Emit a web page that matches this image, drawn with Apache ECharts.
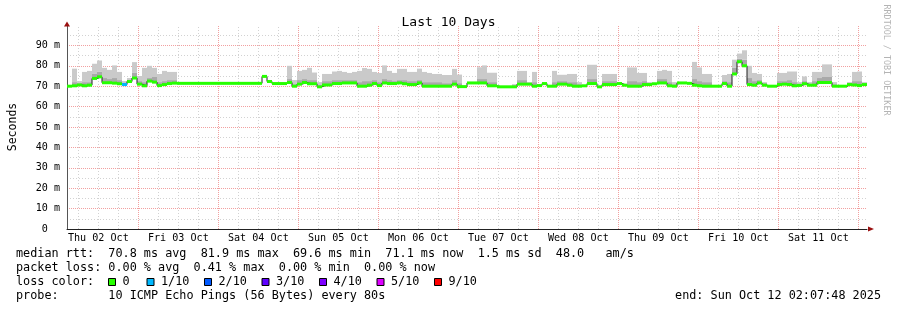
<!DOCTYPE html>
<html><head><meta charset="utf-8">
<script src="https://cdn.jsdelivr.net/npm/echarts@6/dist/echarts.min.js"></script>
<style>html,body{margin:0;padding:0;background:#fff}#c{width:897px;height:310px}</style>
</head><body><div id="c"></div>
<script>
// x axis unit: hours after Thu 02 Oct 00:00
const START_H = 2.6;
const STEP_H = 1.5;
const SPAN_H = 240;

const dayLabels = ['Thu 02 Oct','Fri 03 Oct','Sat 04 Oct','Sun 05 Oct','Mon 06 Oct','Tue 07 Oct','Wed 08 Oct','Thu 09 Oct','Fri 10 Oct','Sat 11 Oct'];
const dayLabelHours = [12,36,60,84,108,132,156,180,204,228];

// median rtt (ms), one value per 1.5 h bin
const median = [
70.0,70.2,70.6,70.2,70.5,73.8,74.6,71.7,71.7,71.5,71.2,70.8,72.3,74.0,71.0,70.2,72.5,72.0,70.3,70.8,
71.3,71.5,71.4,71.4,71.4,71.4,71.4,71.4,71.4,71.4,71.4,71.4,71.4,71.4,71.4,71.4,71.4,71.4,71.4,74.8,
72.3,71.3,71.3,71.3,71.8,70.0,71.0,71.8,71.2,71.2,69.7,70.6,70.6,71.3,71.3,71.6,71.6,71.6,70.0,70.0,
70.5,71.3,70.3,71.6,71.3,71.3,71.6,71.2,70.8,70.8,71.6,70.0,70.0,70.0,70.0,70.0,70.0,71.0,69.8,69.8,
71.6,71.6,71.6,71.6,70.2,70.2,69.7,69.7,69.7,69.7,71.0,71.0,71.0,70.0,70.3,71.3,70.0,70.0,71.0,71.0,
70.5,70.0,70.0,70.2,71.3,71.3,69.7,70.8,70.8,70.8,71.3,70.5,70.0,70.0,70.0,70.8,70.8,71.2,71.6,71.6,
70.2,70.0,71.6,71.6,71.4,70.5,70.2,70.0,70.0,70.0,70.0,71.3,70.0,76.0,82.0,80.0,70.8,70.5,71.6,70.5,
70.0,70.0,70.8,71.0,70.8,70.2,70.4,71.2,70.5,70.5,71.8,71.8,71.8,70.0,70.0,70.0,70.8,70.6,70.3,70.8
];
// top of the darker smoke band (ms)
const smokeDark = [
70.0,72.0,71.5,72.0,72.0,76.0,77.0,74.0,73.5,74.0,73.0,71.5,73.0,76.5,72.5,72.0,74.0,74.5,72.0,72.5,
73.0,73.0,71.4,71.4,71.4,71.4,71.4,71.4,71.4,71.4,71.4,71.4,71.4,71.4,71.4,71.4,71.4,71.4,71.4,74.8,
72.3,71.3,71.3,71.3,73.5,71.0,73.0,73.5,73.0,73.0,70.5,72.5,72.5,73.0,73.0,73.0,73.0,73.0,72.0,72.5,
72.5,73.0,72.0,73.5,73.0,72.5,73.0,73.0,72.5,72.5,73.0,72.0,72.0,72.0,72.0,71.5,71.5,73.0,71.5,69.8,
71.6,71.6,73.5,73.5,72.0,72.0,69.7,69.7,69.7,70.5,73.0,73.0,71.5,72.0,70.8,71.3,70.0,72.0,72.5,72.5,
72.0,72.0,71.0,70.2,73.5,73.5,69.7,72.5,72.5,72.5,72.0,70.5,72.5,72.5,72.0,72.5,71.5,71.2,73.5,73.5,
72.0,71.0,71.6,71.6,71.4,73.5,72.5,72.0,72.0,70.0,70.0,72.5,72.0,79.0,83.5,83.0,74.0,72.5,73.0,71.5,
70.0,70.0,72.5,72.5,73.0,72.0,71.0,72.5,71.0,72.5,74.0,74.5,74.5,71.0,70.0,70.0,71.5,72.5,72.5,71.0
];
// top of the smoke (max ping, ms)
const smokeHigh = [
70.0,78.6,72.5,77.0,77.5,81.0,82.6,79.0,78.0,80.2,77.0,72.5,74.0,81.8,75.0,79.0,80.0,79.0,76.0,77.5,
77.0,77.0,71.4,71.4,71.4,71.4,71.4,71.4,71.4,71.4,71.4,71.4,71.4,71.4,71.4,71.4,71.4,71.4,71.4,74.8,
72.3,71.3,71.3,71.3,80.0,73.0,77.5,78.0,79.0,76.7,72.0,76.0,76.0,77.2,77.5,77.0,76.5,77.0,77.5,78.9,
78.5,77.0,76.5,80.2,77.5,76.5,78.5,78.5,77.0,77.0,78.6,77.0,76.5,76.0,76.0,75.5,75.5,78.5,75.7,69.8,
71.6,71.6,79.3,80.2,76.6,76.6,69.7,69.7,69.7,71.0,77.5,77.5,72.0,77.0,71.0,71.3,70.0,77.5,75.6,75.6,
76.0,76.0,72.0,70.2,80.5,80.5,69.7,76.0,76.0,76.0,72.0,70.5,79.2,79.2,76.5,76.5,72.0,71.2,77.5,78.0,
77.5,72.0,71.6,71.6,71.4,81.9,79.2,76.0,76.0,70.0,70.0,75.5,76.0,83.0,86.0,87.6,80.0,76.5,76.0,72.0,
70.0,70.0,76.5,76.5,77.2,77.2,72.0,74.8,72.0,77.0,77.0,80.7,80.7,72.0,70.0,70.0,72.0,77.0,77.2,72.0
];
// loss level index per bin (index into lossLabels); only listed bins differ from 0
const lossBins = {11: 1};

const lossLabels = ['0','1/10','2/10','3/10','4/10','5/10','9/10'];
const lossColors = ['#26ff00','#00b8ff','#0059ff','#5e00ff','#7e00ff','#dd00ff','#ff0000'];

const statLine1 = 'median rtt:  70.8 ms avg  81.9 ms max  69.6 ms min  71.1 ms now  1.5 ms sd  48.0   am/s';
const statLine2 = 'packet loss: 0.00 % avg  0.41 % max  0.00 % min  0.00 % now';
const statLine3 = 'loss color:';
const statLine4 = 'probe:       10 ICMP Echo Pings (56 Bytes) every 80s';
const endText = 'end: Sun Oct 12 02:07:48 2025';

const MONO = '"DejaVu Sans Mono", "Liberation Mono", monospace';
const END_H = START_H + SPAN_H;

const t = median.map((_, i) => START_H + STEP_H * i);
const tEnd = i => (i + 1 < t.length ? t[i + 1] : END_H);
const medianData = median.map((v,i)=>[t[i], v]).concat([[END_H, median[median.length-1]]]);
const darkData = median.map((v,i)=>[t[i], tEnd(i), v, smokeDark[i]]);
const lightData = median.map((v,i)=>[t[i], tEnd(i), smokeDark[i], smokeHigh[i]]);
const greenData = median.map((v,i)=>[t[i], tEnd(i), v, lossBins[i] || 0]);

// vertical grid lines
const gridLines = [];
for (let h = 6; h < END_H; h += 6) {
  if (h <= START_H) continue;
  const major = h % 24 === 0;
  gridLines.push({xAxis: h, lineStyle: major ? {color:'#f2a0a0', type:[1,1], width:1} : {color:'#d2d2d2', type:[1,2], width:1}});
}

function bandRenderer(color) {
  return (params, api) => {
    const a = api.coord([api.value(0), api.value(3)]);
    const b = api.coord([api.value(1), api.value(2)]);
    const h = b[1] - a[1];
    if (h <= 0.01) return null;
    return {type:'rect', shape:{x:a[0], y:a[1], width:b[0]-a[0], height:h}, style:{fill:color}};
  };
}

const chart = echarts.init(document.getElementById('c'), null, {renderer:'canvas'});

const graphics = [
  {type:'text', x:886.5, y:60, rotation:-Math.PI/2, style:{text:'RRDTOOL / TOBI OETIKER', fontFamily:MONO, fontSize:8.4, fill:'#b4b4b4', align:'center', verticalAlign:'middle', textAlign:'center', textVerticalAlign:'middle'}},
  {type:'text', x:16, y:254, style:{text:statLine1, fontFamily:MONO, fontSize:11.8, fill:'#000', align:'left', verticalAlign:'middle', textAlign:'left', textVerticalAlign:'middle'}},
  {type:'text', x:16, y:268.3, style:{text:statLine2, fontFamily:MONO, fontSize:11.8, fill:'#000', align:'left', verticalAlign:'middle', textAlign:'left', textVerticalAlign:'middle'}},
  {type:'text', x:16, y:282.3, style:{text:statLine3, fontFamily:MONO, fontSize:11.8, fill:'#000', align:'left', verticalAlign:'middle', textAlign:'left', textVerticalAlign:'middle'}},
  {type:'text', x:16, y:296.3, style:{text:statLine4, fontFamily:MONO, fontSize:11.8, fill:'#000', align:'left', verticalAlign:'middle', textAlign:'left', textVerticalAlign:'middle'}},
  {type:'text', x:881, y:296.3, style:{text:endText, fontFamily:MONO, fontSize:11.8, fill:'#000', align:'right', verticalAlign:'middle', textAlign:'right', textVerticalAlign:'middle'}}
];
const swatchX = [108, 146.5, 204, 261.5, 319, 376.5, 434];
lossLabels.forEach((lab, k) => {
  graphics.push({type:'rect', shape:{x:swatchX[k]+0.5, y:278.5, width:7, height:7}, style:{fill:lossColors[k], stroke:'#000', lineWidth:1}});
  graphics.push({type:'text', x:swatchX[k]+14.5, y:282.3, style:{text:lab, fontFamily:MONO, fontSize:11.8, fill:'#000', align:'left', verticalAlign:'middle', textAlign:'left', textVerticalAlign:'middle'}});
});

chart.setOption({
  animation: false,
  backgroundColor: '#ffffff',
  title: {text:'Last 10 Days', left:'center', top:11, textStyle:{fontFamily:MONO, fontSize:13, fontWeight:'normal', color:'#000'}},
  grid: {left:67, right:30, top:25, bottom:81, containLabel:false, outerBoundsMode:'none'},
  xAxis: {
    type:'value', min:START_H, max:END_H,
    axisLine:{show:true, lineStyle:{color:'#222', width:1}},
    axisTick:{show:false},
    splitLine:{show:false},
    axisLabel:{customValues: dayLabelHours, formatter: v => { const k = dayLabelHours.indexOf(v); return k >= 0 ? dayLabels[k] : ''; }, fontFamily:MONO, fontSize:10.1, color:'#000', margin:4}
  },
  yAxis: {
    type:'value', min:0, max:100, interval:10,
    name:'Seconds', nameLocation:'middle', nameRotate:90, nameGap:48,
    nameTextStyle:{fontFamily:MONO, fontSize:11.5, color:'#000'},
    axisLine:{show:true, lineStyle:{color:'#555', width:1}},
    axisTick:{show:false},
    axisLabel:{formatter: v => v === 0 ? '0  ' : (v >= 100 ? '' : v + ' m'), fontFamily:MONO, fontSize:10.1, color:'#000', margin:7},
    splitLine:{show:true, showMaxLine:false, showMinLine:false, lineStyle:{color:'#f2a0a0', type:[1,1], width:1}},
    minorTick:{show:false, splitNumber:2},
    minorSplitLine:{show:true, lineStyle:{color:'#d2d2d2', type:[1,2], width:1}}
  },
  series: [
    {name:'smoke dark', type:'custom', data:darkData, encode:{x:[0,1], y:[2,3]}, z:3, silent:true,
     renderItem: bandRenderer('#a9a9a9'),
     markLine:{silent:true, symbol:['none','none'], label:{show:false}, z:1, data:gridLines},
     markPoint:{silent:true, data:[
        {coord:[END_H, 0], symbol:'triangle', symbolSize:[5,6], symbolRotate:-90, symbolOffset:[4,0], itemStyle:{color:'#9a1010'}},
        {coord:[START_H, 100], symbol:'triangle', symbolSize:[6,5], symbolOffset:[0,-1], itemStyle:{color:'#9a1010'}}
     ], label:{show:false}}},
    {name:'smoke', type:'custom', data:lightData, encode:{x:[0,1], y:[2,3]}, z:3, silent:true,
     renderItem: bandRenderer('#cacaca')},
    {name:'median', type:'line', step:'end', data:medianData, showSymbol:false, symbol:'none',
     lineStyle:{color:'#202020', width:1}, z:4, silent:true},
    {name:'median loss', type:'custom', data:greenData, encode:{x:[0,1], y:2}, z:5, silent:true,
     renderItem: (params, api) => {
       const a = api.coord([api.value(0), api.value(2)]);
       const b = api.coord([api.value(1), api.value(2)]);
       return {type:'rect', shape:{x:a[0], y:a[1]-1.5, width:b[0]-a[0], height:3}, style:{fill:lossColors[api.value(3)]}};
     }}
  ],
  graphic: graphics
});
</script>
</body></html>
